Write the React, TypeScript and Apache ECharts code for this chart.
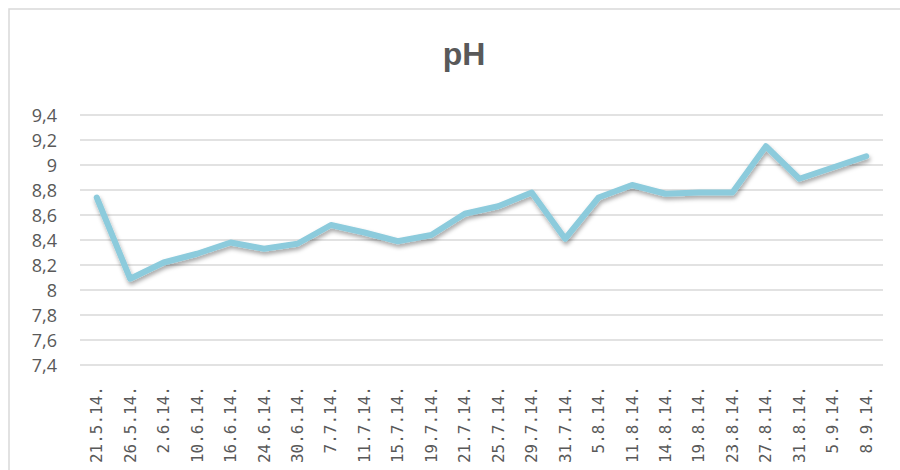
import React, { useEffect, useRef } from "react";
import * as echarts from "echarts";

const chartTitle = "pH";
const dates = [
  "21.5.14.", "26.5.14.", "2.6.14.", "10.6.14.", "16.6.14.", "24.6.14.", "30.6.14.", "7.7.14.",
  "11.7.14.", "15.7.14.", "19.7.14.", "21.7.14.", "25.7.14.", "29.7.14.", "31.7.14.", "5.8.14.",
  "11.8.14.", "14.8.14.", "19.8.14.", "23.8.14.", "27.8.14.", "31.8.14.", "5.9.14.", "8.9.14.",
];
const phValues = [
  8.74, 8.09, 8.22, 8.29, 8.38, 8.33, 8.37, 8.52,
  8.46, 8.39, 8.44, 8.61, 8.67, 8.78, 8.41, 8.74,
  8.84, 8.77, 8.78, 8.78, 9.15, 8.89, 8.98, 9.07,
];
const yMin = 7.4;
const yMax = 9.4;
const yStep = 0.2;

export default function App() {
  const ref = useRef<HTMLDivElement>(null);
  useEffect(() => {
    document.body.style.margin = "0";
    if (!ref.current) return;
    const chart = echarts.init(ref.current, undefined, { renderer: "svg" });
    chart.setOption({
      animation: false,
      backgroundColor: "#ffffff",
      title: {
        text: chartTitle,
        left: 459,
        textAlign: "center",
        top: 33,
        textStyle: {
          fontFamily: "Liberation Sans",
          fontSize: 32,
          fontWeight: "bold",
          color: "#595959",
        },
      },
      graphic: [
        {
          type: "rect",
          shape: { x: 9, y: 9, width: 900, height: 470 },
          style: { fill: "none", stroke: "#d9d9d9", lineWidth: 1.5 },
          silent: true,
        },
      ],
      grid: { left: 80, right: 17, top: 115, bottom: 105, containLabel: false },
      xAxis: {
        type: "category",
        data: dates,
        boundaryGap: true,
        axisLine: { show: false },
        axisTick: { show: false },
        axisLabel: {
          rotate: 90,
          interval: 0,
          margin: 21,
          fontFamily: "DejaVu Sans Mono",
          fontSize: 16,
          color: "#595959",
        },
      },
      yAxis: {
        type: "value",
        min: yMin,
        max: yMax,
        interval: yStep,
        axisLine: { show: false },
        axisTick: { show: false },
        splitLine: { lineStyle: { color: "#d9d9d9", width: 1.5 } },
        axisLabel: {
          margin: 23,
          fontFamily: "Open Sans",
          fontSize: 18,
          color: "#595959",
          formatter: (v: number) => String(Math.round(v * 10) / 10).replace(".", ","),
        },
      },
      series: [
        {
          type: "line",
          data: phValues,
          symbol: "none",
          lineStyle: {
            color: "#8ccbdc",
            width: 6,
            cap: "round",
            join: "round",
            shadowColor: "rgba(0,0,0,0.35)",
            shadowBlur: 4,
            shadowOffsetY: 3,
            shadowOffsetX: 1,
          },
        },
      ],
    });
    return () => chart.dispose();
  }, []);
  return <div ref={ref} style={{ width: 900, height: 470 }} />;
}
